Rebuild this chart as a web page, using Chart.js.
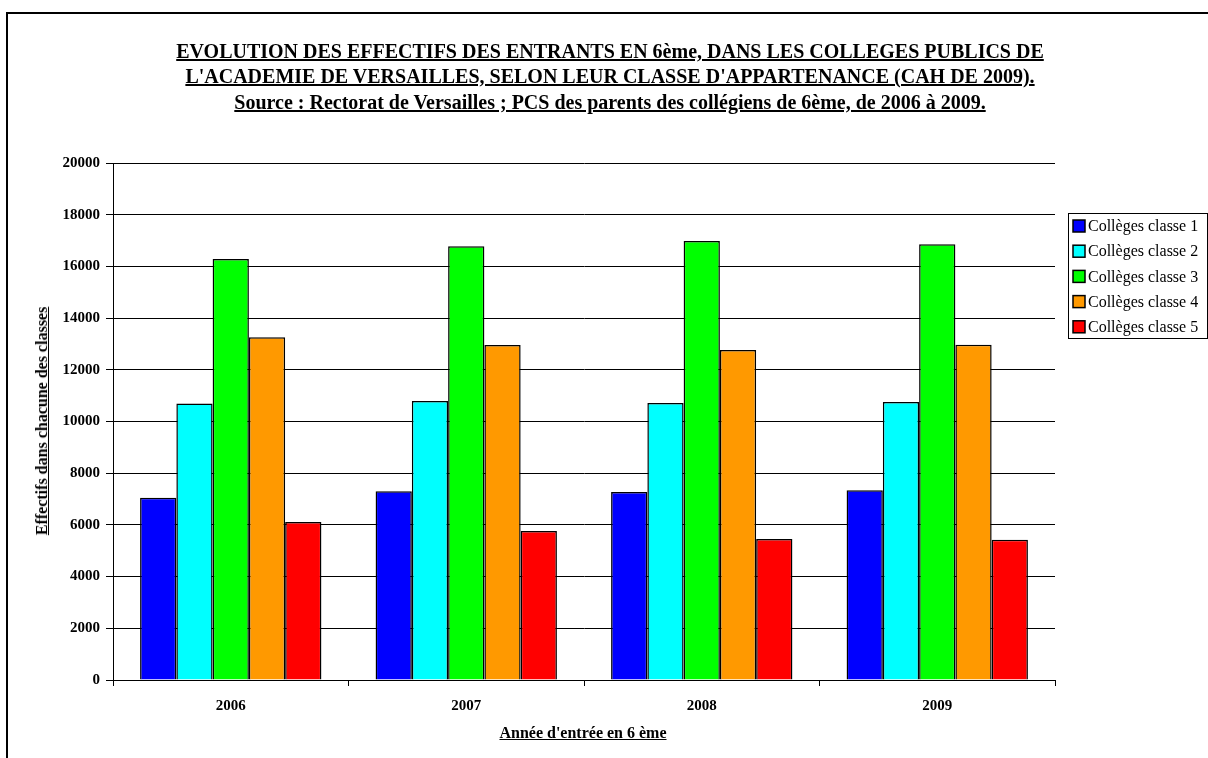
<!DOCTYPE html>
<html>
<head>
<meta charset="utf-8">
<script src="https://cdn.jsdelivr.net/npm/chart.js@4.4.1/dist/chart.umd.min.js"></script>
<style>
  body { margin: 0; background: #fff; }
  #wrap { position: relative; width: 1208px; height: 758px; overflow: hidden; font-family: "Liberation Serif", "Times New Roman", serif; }
  #frame { position: absolute; left: 6px; top: 12px; width: 1300px; height: 900px; border: 2px solid #000; }
  #chart { position: absolute; left: 0; top: 0; }
  .title { position: absolute; left: 0; width: 1220px; text-align: center; font-weight: bold; font-size: 20px; line-height: 20px; text-decoration: underline; white-space: nowrap; }
  #xTitle { position: absolute; left: 383px; width: 400px; top: 724px; line-height: 18px; text-align: center; font-weight: bold; font-size: 16px; text-decoration: underline; }
  #yTitle { position: absolute; left: 42px; top: 421px; transform: translate(-50%, -50%) rotate(-90deg); font-weight: bold; font-size: 16px; line-height: 18px; text-decoration: underline; white-space: nowrap; }
</style>
</head>
<body>
<div id="wrap">
  <div id="frame"></div>
  <canvas id="chart" width="1208" height="758"></canvas>
  <div class="title" style="top:41px">EVOLUTION DES EFFECTIFS DES ENTRANTS EN 6ème, DANS LES COLLEGES PUBLICS DE</div>
  <div class="title" style="top:66px">L'ACADEMIE DE VERSAILLES, SELON LEUR CLASSE D'APPARTENANCE (CAH DE 2009).</div>
  <div class="title" style="top:92px">Source : Rectorat de Versailles ; PCS des parents des collégiens de 6ème, de 2006 à 2009.</div>
  <div id="xTitle">Année d'entrée en 6 ème</div>
  <div id="yTitle">Effectifs dans chacune des classes</div>
</div>

<script>
  // values
  const years = ['2006', '2007', '2008', '2009'];
  const seriesNames = ['Collèges classe 1', 'Collèges classe 2', 'Collèges classe 3', 'Collèges classe 4', 'Collèges classe 5'];
  const classe1 = [7050, 7300, 7270, 7340];
  const classe2 = [10700, 10790, 10720, 10750];
  const classe3 = [16290, 16780, 16980, 16860];
  const classe4 = [13260, 12960, 12770, 12970];
  const classe5 = [6110, 5760, 5450, 5430];
  const seriesColors = ['#0000ff', '#00ffff', '#00ff00', '#ff9900', '#ff0000'];
  const yMin = 0, yMax = 20000, yStep = 2000;

  const seriesValues = [classe1, classe2, classe3, classe4, classe5];

  // legend drawn in a box like the spreadsheet one
  const boxLegend = {
    id: 'boxLegend',
    afterDraw(chart) {
      const ctx = chart.ctx;
      const left = 1068, top = 213, w = 139, h = 125;
      ctx.save();
      ctx.fillStyle = '#fff';
      ctx.fillRect(left, top, w, h);
      ctx.strokeStyle = '#000';
      ctx.lineWidth = 1;
      ctx.strokeRect(left + 0.5, top + 0.5, w, h);
      ctx.font = '16px "Liberation Serif", serif';
      ctx.textBaseline = 'middle';
      chart.data.datasets.forEach((ds, i) => {
        const cy = 226 + i * 25.2;
        ctx.fillStyle = ds.backgroundColor;
        ctx.fillRect(1073, cy - 6, 12, 12);
        ctx.strokeStyle = '#000';
        ctx.lineWidth = 1.5;
        ctx.strokeRect(1073, cy - 6, 12, 12);
        ctx.fillStyle = '#000';
        ctx.fillText(ds.label, 1088, cy + 1);
      });
      ctx.restore();
    }
  };

  const ctx = document.getElementById('chart').getContext('2d');
  new Chart(ctx, {
    type: 'bar',
    data: {
      labels: years,
      datasets: seriesNames.map((name, i) => ({
        label: name,
        data: seriesValues[i],
        backgroundColor: seriesColors[i],
        borderColor: '#000',
        borderWidth: 1.5,
        categoryPercentage: 0.77,
        barPercentage: 1
      }))
    },
    options: {
      responsive: false,
      animation: false,
      layout: { padding: { left: 0, right: 153, top: 163, bottom: 0 } },
      plugins: {
        legend: { display: false },
        title: { display: false },
        tooltip: { enabled: false }
      },
      scales: {
        x: {
          grid: { offset: true, drawOnChartArea: false, drawTicks: true, tickLength: 6, color: '#000' },
          border: { color: '#000', width: 1 },
          ticks: { color: '#000', padding: 11, font: { family: '"Liberation Serif", serif', size: 15, weight: 'bold' } },
          afterFit(scale) { scale.height = 78; }
        },
        y: {
          min: yMin,
          max: yMax,
          grid: { color: '#000', lineWidth: 1, tickLength: 7 },
          border: { color: '#000', width: 1 },
          ticks: {
            stepSize: yStep, color: '#000', padding: 6,
            font: { family: '"Liberation Serif", serif', size: 15, weight: 'bold' },
            callback: v => String(v)
          },
          afterFit(scale) { scale.width = 113; }
        }
      }
    },
    plugins: [boxLegend]
  });
</script>
</body>
</html>
